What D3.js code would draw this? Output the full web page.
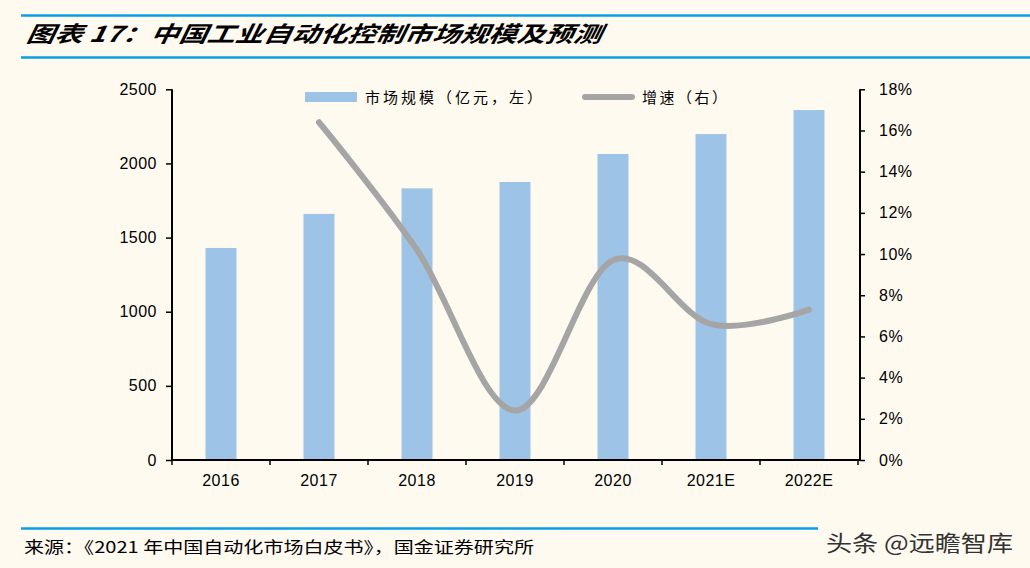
<!DOCTYPE html>
<html><head><meta charset="utf-8">
<script src="https://cdn.jsdelivr.net/npm/d3@7"></script>
<style>
html,body{margin:0;padding:0;background:#fffaf0;}
svg{display:block;}
</style></head>
<body>
<svg id="c" width="1030" height="568"></svg>
<script>
const categories = ["2016","2017","2018","2019","2020","2021E","2022E"];
const marketSize = [1430, 1660, 1832, 1875, 2064, 2198, 2360];
const growthCats = ["2017","2018","2019","2020","2021E","2022E"];
const growthRate = [0.164, 0.102, 0.024, 0.097, 0.066, 0.073];
const leftTicks = [0, 500, 1000, 1500, 2000, 2500];
const rightTicks = [0, 0.02, 0.04, 0.06, 0.08, 0.10, 0.12, 0.14, 0.16, 0.18];
const titleText = "图表 17：中国工业自动化控制市场规模及预测";
const sourceText = "来源：《2021 年中国自动化市场白皮书》，国金证券研究所";
const legendBar = "市场规模（亿元，左）";
const legendLine = "增速（右）";
const watermark = "头条 @远瞻智库";

const svg = d3.select("#c");
svg.append("rect").attr("width",1030).attr("height",568).attr("fill","#fffaf0");

const blue = "#0a9fe4";
// header rules
svg.append("line").attr("x1",21).attr("x2",1030).attr("y1",15.5).attr("y2",15.5).attr("stroke",blue).attr("stroke-width",2.5);
svg.append("line").attr("x1",21).attr("x2",1030).attr("y1",57.5).attr("y2",57.5).attr("stroke",blue).attr("stroke-width",2.5);
svg.append("text").attr("x",27).attr("y",42).text(titleText)
  .attr("font-family","'Noto Sans CJK SC', sans-serif").attr("font-size",22).attr("font-weight","bold")
  .attr("font-style","italic").attr("fill","#000").attr("textLength",575).attr("lengthAdjust","spacingAndGlyphs")
  .attr("transform","skewX(-10) translate(6,0)");

const x0 = 172, x1 = 858, yTop = 89.3, yBot = 460;
const x = d3.scaleBand().domain(categories).range([x0, x1]).paddingInner(0).paddingOuter(0);
const yL = d3.scaleLinear().domain([0,2500]).range([yBot, yTop]);
const yR = d3.scaleLinear().domain([0,0.18]).range([yBot, yTop]);

const barW = 31;
svg.append("g").selectAll("rect").data(categories).join("rect")
  .attr("x", (d)=>x(d)+x.bandwidth()/2-barW/2)
  .attr("y", (d,i)=>yL(marketSize[i]))
  .attr("width", barW)
  .attr("height", (d,i)=>yBot-yL(marketSize[i]))
  .attr("fill","#9dc3e6");

// line
const line = d3.line().x((d,i)=>x(growthCats[i])+x.bandwidth()/2).y(d=>yR(d)).curve(d3.curveCardinal.tension(0));
svg.append("path").attr("d", line(growthRate)).attr("fill","none").attr("stroke","#a5a5a5")
  .attr("stroke-width",6).attr("stroke-linecap","round").attr("stroke-linejoin","round");

const tickFont = "'Liberation Sans', Arial, sans-serif";
// left axis
const gL = svg.append("g").attr("transform",`translate(${x0},0)`)
  .call(d3.axisLeft(yL).tickValues(leftTicks).tickSize(6).tickPadding(9).tickFormat(d3.format("d")));
// bottom axis
const gB = svg.append("g").attr("transform",`translate(0,${yBot})`)
  .call(d3.axisBottom(x).tickSize(0).tickPadding(15));
// category boundary ticks
const bounds = categories.map(c=>x(c)).concat([x1]);
gB.selectAll("line.bt").data(bounds).join("line").attr("class","bt")
  .attr("x1",d=>d).attr("x2",d=>d).attr("y1",0).attr("y2",5).attr("stroke","#000").attr("stroke-width",1.5);
// right axis
const gR = svg.append("g").attr("transform",`translate(${x1+2},0)`)
  .call(d3.axisRight(yR).tickValues(rightTicks).tickSize(5).tickPadding(14).tickFormat(d3.format(".0%")));

[gL,gB,gR].forEach(g=>{
  g.select(".domain").attr("stroke","#000").attr("stroke-width",2);
  g.selectAll(".tick line").attr("stroke","#000").attr("stroke-width",1.5);
  g.selectAll("text").attr("font-family",tickFont).attr("font-size",16).attr("fill","#000").attr("letter-spacing","0.5px");
});
gL.select(".domain").attr("d",`M0,${yTop}V${yBot}`);
gR.select(".domain").attr("d",`M0,${yTop}V${yBot}`);
gB.select(".domain").attr("d",`M${x0},0H${x1+2}`);
gB.selectAll(".tick text").attr("dy","0.71em");

// legend
const lf = "'Noto Sans CJK SC', sans-serif";
svg.append("rect").attr("x",305).attr("y",92).attr("width",52).attr("height",10).attr("fill","#9dc3e6");
svg.append("text").attr("x",365).attr("y",102.5).text(legendBar).attr("font-family",lf).attr("font-size",15)
  .attr("fill","#000").attr("textLength",177).attr("lengthAdjust","spacing");
svg.append("line").attr("x1",585).attr("x2",632).attr("y1",97).attr("y2",97).attr("stroke","#a5a5a5")
  .attr("stroke-width",6).attr("stroke-linecap","round");
svg.append("text").attr("x",642).attr("y",102.5).text(legendLine).attr("font-family",lf).attr("font-size",15)
  .attr("fill","#000").attr("textLength",85).attr("lengthAdjust","spacing");

// footer
svg.append("line").attr("x1",21).attr("x2",818).attr("y1",528.5).attr("y2",528.5).attr("stroke",blue).attr("stroke-width",2.5);
svg.append("text").attr("x",24).attr("y",553).text(sourceText).attr("font-family",lf).attr("font-size",16)
  .attr("fill","#000").attr("textLength",510).attr("lengthAdjust","spacingAndGlyphs");
svg.append("text").attr("x",826).attr("y",551).text(watermark).attr("font-family",lf).attr("font-size",22)
  .attr("fill","#333").attr("textLength",187).attr("lengthAdjust","spacingAndGlyphs");
</script>
</body></html>
